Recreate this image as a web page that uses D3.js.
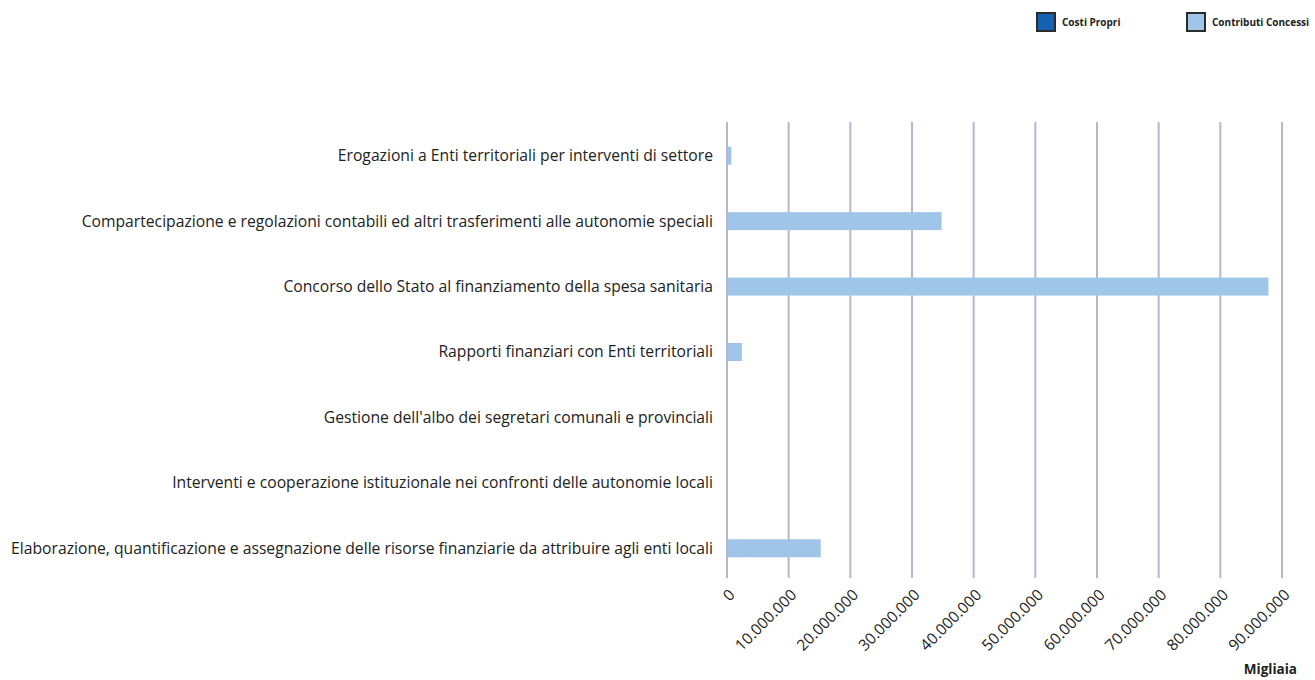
<!DOCTYPE html>
<html><head><meta charset="utf-8">
<script src="https://cdn.jsdelivr.net/npm/d3@7"></script>
<style>body{margin:0;background:#fff;} svg{display:block;font-family:"Open Sans",sans-serif;}</style>
</head><body>
<svg id="c" width="1315" height="680"></svg>
<script>
const categories = [
  "Erogazioni a Enti territoriali per interventi di settore",
  "Compartecipazione e regolazioni contabili ed altri trasferimenti alle autonomie speciali",
  "Concorso dello Stato al finanziamento della spesa sanitaria",
  "Rapporti finanziari con Enti territoriali",
  "Gestione dell'albo dei segretari comunali e provinciali",
  "Interventi e cooperazione istituzionale nei confronti delle autonomie locali",
  "Elaborazione, quantificazione e assegnazione delle risorse finanziarie da attribuire agli enti locali"
];
const costiPropri = [0, 0, 0, 0, 0, 0, 0];
const contributiConcessi = [700000, 34800000, 87800000, 2400000, 0, 0, 15200000];
const tickValues = [0, 10000000, 20000000, 30000000, 40000000, 50000000, 60000000, 70000000, 80000000, 90000000];
const seriesNames = ["Costi Propri", "Contributi Concessi"];
const seriesColors = ["#1560b0", "#9fc5e8"];

const svg = d3.select("#c");
const x = d3.scaleLinear().domain([0, 90000000]).range([727, 1282]);
const y = d3.scaleBand().domain(categories).range([123, 581]);
const barH = 18;
const fmt = v => d3.format(",")(v).replace(/,/g, ".");

// gridlines
svg.append("g").selectAll("line").data(tickValues).join("line")
  .attr("x1", d => x(d)).attr("x2", d => x(d))
  .attr("y1", 122).attr("y2", 578)
  .attr("stroke", "#b7b5d3").attr("stroke-width", 2);

// bars
const rows = categories.map((c, i) => ({c, v: contributiConcessi[i], p: costiPropri[i]}));
svg.append("g").selectAll("rect").data(rows).join("rect")
  .attr("x", x(0) + 1).attr("y", d => y(d.c) + y.bandwidth()/2 - barH/2)
  .attr("width", d => Math.max(0, x(d.v) - x(0) - 1)).attr("height", barH)
  .attr("fill", seriesColors[1]);

// category labels
svg.append("g").selectAll("text").data(categories).join("text")
  .attr("x", 713).attr("y", d => y(d) + y.bandwidth()/2)
  .attr("dy", "0.35em").attr("text-anchor", "end")
  .attr("font-size", 15.7).attr("fill", "#222").text(d => d);

// tick labels
svg.append("g").selectAll("text").data(tickValues).join("text")
  .attr("transform", d => `translate(${x(d) + 5},${592}) rotate(-45)`)
  .attr("text-anchor", "end").attr("dy", "0.35em")
  .attr("font-size", 15.5).attr("fill", "#222").text(d => fmt(d));

svg.append("text").attr("x", 1297).attr("y", 674).attr("text-anchor", "end")
  .attr("font-size", 13.5).attr("font-weight", "bold").attr("fill", "#222").text("Migliaia");

// legend
const lx = [1037, 1187];
seriesNames.forEach((n, i) => {
  svg.append("rect").attr("x", lx[i]).attr("y", 13).attr("width", 18).attr("height", 18)
    .attr("fill", seriesColors[i]).attr("stroke", "#2b2b2b").attr("stroke-width", 2);
  svg.append("text").attr("x", lx[i] + 25).attr("y", 22).attr("dy", "0.35em")
    .attr("font-size", 10).attr("font-weight", "bold").attr("fill", "#222").text(n);
});
</script>
</body></html>
